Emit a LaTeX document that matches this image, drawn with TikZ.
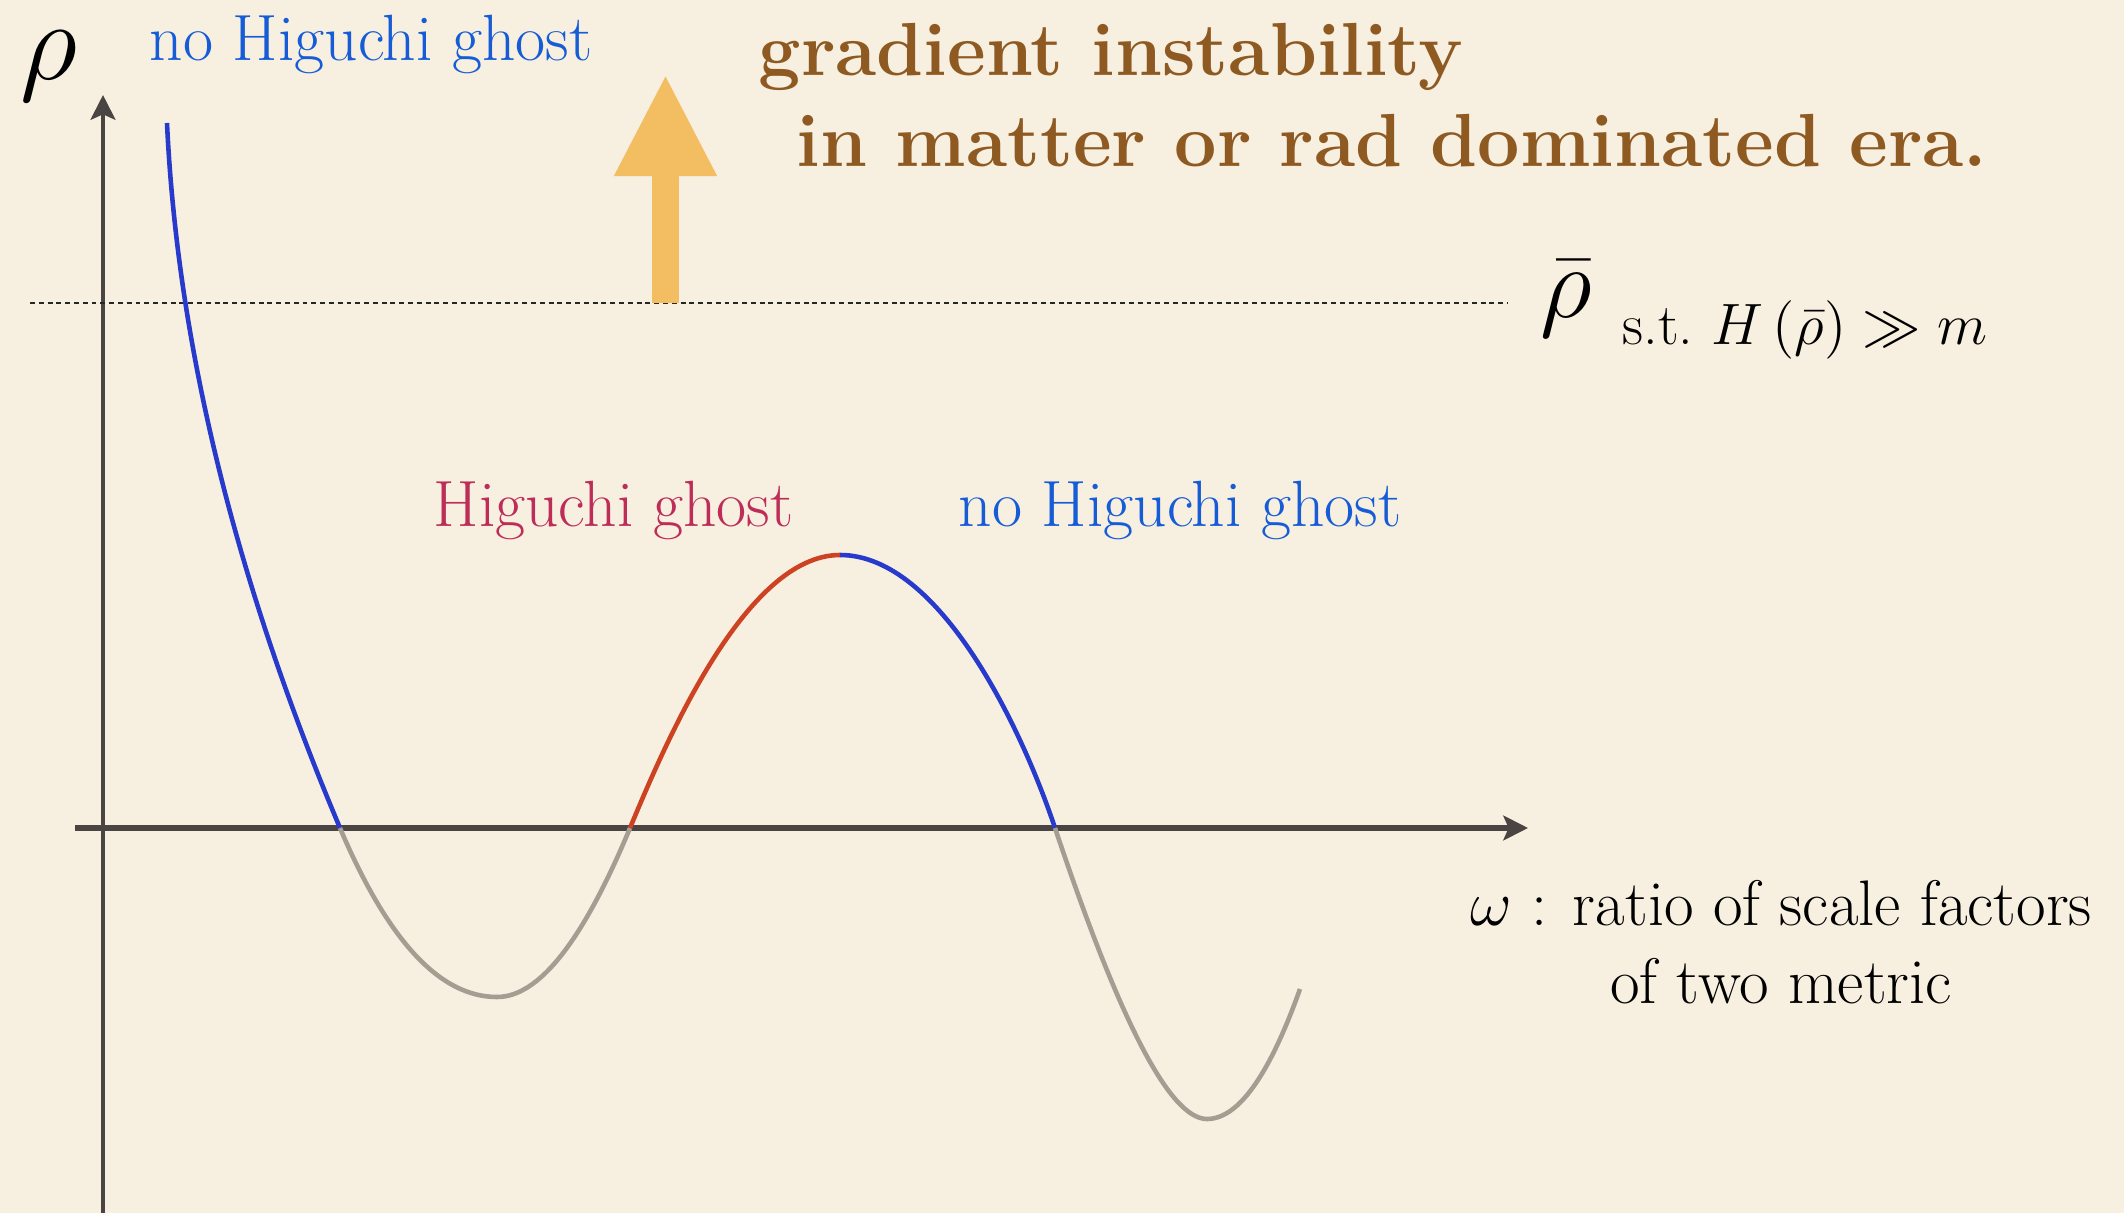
\documentclass[tikz,border=0pt]{standalone}
\usepackage{fix-cm}
\usepackage{xcolor}
\usepackage{tikz}
\usetikzlibrary{arrows.meta}

\definecolor{parchment}{RGB}{247,239,224}
\definecolor{axisgray}{RGB}{74,68,66}
\definecolor{curveblue}{RGB}{40,58,204}
\definecolor{curvered}{RGB}{204,66,34}
\definecolor{curvegray}{RGB}{163,157,146}
\definecolor{labelblue}{RGB}{22,92,214}
\definecolor{labelred}{RGB}{190,45,88}
\definecolor{instbrown}{RGB}{142,90,34}
\definecolor{arrowgold}{RGB}{243,190,98}

\begin{document}
\begin{tikzpicture}[
    x=0.01cm, y=-0.01cm,
    axis/.style={draw=axisgray, -{Stealth[length=7pt, width=7pt, inset=1.5pt]}},
    branch/.style={line width=1.3pt},
    label/.style={inner sep=0pt, anchor=base west, font=\fontsize{18.6}{22}\selectfont},
    era/.style={inner sep=0pt, anchor=base west, text=instbrown, font=\fontsize{21.4}{24}\selectfont\bfseries}
]

% Background
\fill[parchment] (0,0) rectangle (2124,1213);
\useasboundingbox (0,0) rectangle (2124,1213);

% Axes
\coordinate (xstart) at (75,828);
\coordinate (xend) at (1528,828);
\coordinate (ystart) at (103,1213);
\coordinate (yend) at (103,95);
\draw[axis, line width=1.6pt] (xstart) -- (xend);
\draw[axis, line width=1.4pt] (ystart) -- (yend);

% Threshold
\coordinate (hleft) at (30,303);
\coordinate (hright) at (1508,303);
\draw[black!85, line width=0.6pt, dash pattern=on 1.4pt off 1.1pt] (hleft) -- (hright);

% Curve
\coordinate (top) at (167,123);
\coordinate (z1) at (340,828);
\coordinate (m1) at (497,997);
\coordinate (z2) at (630,828);
\coordinate (peak) at (840,555);
\coordinate (z3) at (1055,828);
\coordinate (m2) at (1207,1119);
\coordinate (tail) at (1300,989);
\draw[branch, curveblue] (top) .. controls (180,400) and (265,650) .. (z1);
\draw[branch, curvegray] (z1) .. controls (388,941) and (440,997) .. (m1)
    .. controls (539,997) and (583,941) .. (z2);
\draw[branch, curvered] (z2) .. controls (665,744) and (745,555) .. (peak);
\draw[branch, curveblue] (peak) .. controls (940,555) and (1022,729) .. (z3);
\draw[branch, curvegray] (z3) .. controls (1120,1022) and (1170,1119) .. (m2)
    .. controls (1238,1119) and (1269,1076) .. (tail);

% Instability arrow
\coordinate (foot) at (665.5,303);
\coordinate (tip) at (665.5,74);
\draw[arrowgold, line width=27*0.2845pt, -{Triangle[length=102*0.2845pt, width=95*0.2845pt]}] (foot) -- (tip);

% Labels
\node[inner sep=0pt, anchor=base, font=\fontsize{32}{34}\selectfont] (rho) at (49,80) {$\rho$};
\node[label, text=labelblue] (noghostl) at (149,61) {no Higuchi ghost};
\node[label, text=labelred] (ghost) at (433,527) {Higuchi ghost};
\node[label, text=labelblue] (noghostr) at (958,527) {no Higuchi ghost};
\node[era] (grad) at (758,76) {gradient instability};
\node[era] (era) at (796,167) {in matter or rad dominated era.};
\node[inner sep=0pt, anchor=base, font=\fontsize{29}{30}\selectfont] (rhobar) at (1566,318) {$\bar\rho$};
\node[inner sep=0pt, anchor=base west, font=\fontsize{16.6}{19}\selectfont] (st) at (1622,345) {s.t.\ $H\,(\bar\rho)\gg m$};
\node[inner sep=0pt, anchor=base, align=center, font=\fontsize{18.3}{21.9}\selectfont] (omega) at (1781,1003)
    {$\omega$ : ratio of scale factors\\ of two metric};

\end{tikzpicture}
\end{document}
